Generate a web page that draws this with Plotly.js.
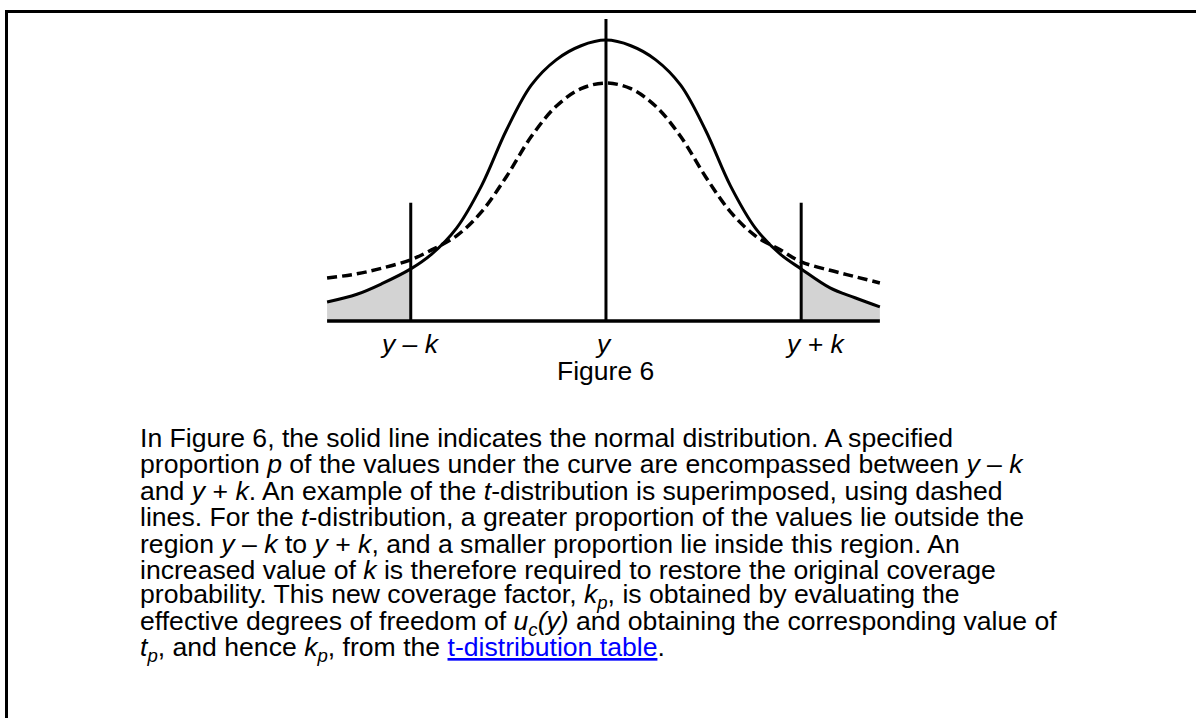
<!DOCTYPE html>
<html>
<head>
<meta charset="utf-8">
<script src="https://cdn.plot.ly/plotly-3.0.1.min.js"></script>
<style>
  html, body { margin: 0; padding: 0; background: #ffffff; overflow: hidden; }
  #wrap { position: relative; width: 1196px; height: 718px; overflow: hidden; }
  #chart { position: absolute; left: 0; top: 0; width: 1196px; height: 718px; }
  #frameTop { position: absolute; left: 5px; top: 10px; width: 1191px; height: 3px; background: #000; }
  #frameLeft { position: absolute; left: 5px; top: 10px; width: 2.5px; height: 708px; background: #000; }
</style>
</head>
<body>
<div id="wrap">
  <div id="chart"></div>
  <div id="frameTop"></div>
  <div id="frameLeft"></div>
</div>
<script>
// ---- data (x in units of sigma, y as curve height) ----
const xs = [-2.80, -2.50, -2.25, -1.96, -1.75, -1.50, -1.25, -1.00, -0.75, -0.50, -0.25, 0,
            0.25, 0.50, 0.75, 1.00, 1.25, 1.50, 1.75, 1.96, 2.25, 2.50, 2.75];
const normalY = [0.027, 0.038, 0.053, 0.074, 0.095, 0.132, 0.192, 0.271, 0.335, 0.371, 0.391, 0.399,
                 0.391, 0.371, 0.335, 0.271, 0.192, 0.132, 0.095, 0.074, 0.047, 0.033, 0.020];
const tDistY = [0.061, 0.067, 0.075, 0.087, 0.101, 0.121, 0.155, 0.205, 0.262, 0.305, 0.330, 0.338,
                0.330, 0.305, 0.262, 0.205, 0.155, 0.121, 0.101, 0.084, 0.072, 0.063, 0.054];
const kValue = 1.96;
const markX = [-1.96, 0, 1.96];
const markTop = [0.168, 0.429, 0.168];
const axisX = [-2.80, 2.75];
const tickLabels = ['y \u2013 k', 'y', 'y + k'];
const captionText = 'Figure 6';
const paragraphLines = [
  'In Figure 6, the solid line indicates the normal distribution. A specified',
  'proportion <i>p</i> of the values under the curve are encompassed between <i>y</i> \u2013 <i>k</i>',
  'and <i>y</i> + <i>k</i>. An example of the <i>t</i>-distribution is superimposed, using dashed',
  'lines. For the <i>t</i>-distribution, a greater proportion of the values lie outside the',
  'region <i>y</i> \u2013 <i>k</i> to <i>y</i> + <i>k</i>, and a smaller proportion lie inside this region. An',
  'increased value of <i>k</i> is therefore required to restore the original coverage',
  'probability. This new coverage factor, <i>k<sub>p</sub></i>, is obtained by evaluating the',
  'effective degrees of freedom of <i>u<sub>c</sub>(y)</i> and obtaining the corresponding value of',
  '<i>t<sub>p</sub></i>, and hence <i>k<sub>p</sub></i>, from the <a href="https://www.example.com/t-table" style="color:#0000ff;text-decoration:underline">t-distribution table</a>.'
];

// ---- build traces ----
const W = 1196, H = 718;
const FONT = 'Liberation Sans, Arial, Helvetica, sans-serif';
const pxX = v => v / W;
const pxY = v => 1 - v / H;

const leftIdx = xs.map((x, i) => i).filter(i => xs[i] <= -kValue);
const rightIdx = xs.map((x, i) => i).filter(i => xs[i] >= kValue);

const fillStyle = {type: 'scatter', mode: 'lines', fill: 'tozeroy', fillcolor: '#d3d3d3',
  line: {width: 0, shape: 'spline', color: 'rgba(0,0,0,0)'}, hoverinfo: 'skip', showlegend: false};

const traces = [
  Object.assign({}, fillStyle, {x: leftIdx.map(i => xs[i]), y: leftIdx.map(i => normalY[i])}),
  Object.assign({}, fillStyle, {x: rightIdx.map(i => xs[i]), y: rightIdx.map(i => normalY[i])}),
  {type: 'scatter', mode: 'lines', x: xs, y: tDistY, name: 't-distribution',
   line: {color: '#000000', width: 3.5, dash: '10px,5px', shape: 'spline'}, hoverinfo: 'skip', showlegend: false},
  {type: 'scatter', mode: 'lines', x: xs, y: normalY, name: 'normal',
   line: {color: '#000000', width: 3, shape: 'spline'}, hoverinfo: 'skip', showlegend: false}
];

const vx = [], vy = [];
markX.forEach((m, i) => { vx.push(m, m, null); vy.push(0, markTop[i], null); });
traces.push({type: 'scatter', mode: 'lines', x: vx, y: vy,
  line: {color: '#000000', width: 3}, hoverinfo: 'skip', showlegend: false});
traces.push({type: 'scatter', mode: 'lines', x: axisX, y: [0, 0],
  line: {color: '#000000', width: 3.5}, hoverinfo: 'skip', showlegend: false});

// ---- annotations ----
const annotations = [];
const labelShift = [-1, -2, 14];
tickLabels.forEach((t, i) => {
  annotations.push({xref: 'x', yref: 'paper', x: markX[i], y: pxY(344), xshift: labelShift[i],
    text: '<i>' + t + '</i>', showarrow: false, xanchor: 'center', yanchor: 'middle',
    font: {family: FONT, size: 26.5, color: '#000000'}});
});
annotations.push({xref: 'x', yref: 'paper', x: 0, y: pxY(371), text: captionText, showarrow: false,
  xanchor: 'center', yanchor: 'middle', font: {family: FONT, size: 26.5, color: '#000000'}});
paragraphLines.forEach((t, i) => {
  annotations.push({xref: 'paper', yref: 'paper', x: pxX(138), y: pxY(438 + 26.4 * i), text: t,
    showarrow: false, xanchor: 'left', yanchor: 'middle', align: 'left',
    font: {family: FONT, size: 26.6, color: '#000000'}});
});

const layout = {
  width: W, height: H,
  margin: {l: 0, r: 0, t: 0, b: 0, pad: 0},
  paper_bgcolor: 'rgba(0,0,0,0)', plot_bgcolor: 'rgba(0,0,0,0)',
  xaxis: {range: [-6.084, 5.924], visible: false, fixedrange: true},
  yaxis: {range: [-0.564, 0.456], visible: false, fixedrange: true},
  showlegend: false,
  annotations: annotations
};

Plotly.newPlot('chart', traces, layout, {staticPlot: true, displayModeBar: false});
</script>
</body>
</html>
